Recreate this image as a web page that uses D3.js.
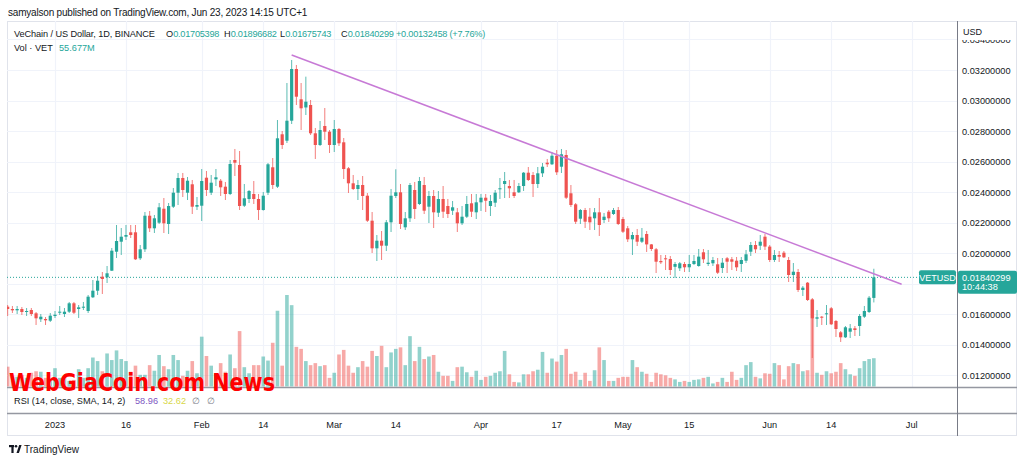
<!DOCTYPE html>
<html><head><meta charset="utf-8">
<script src="https://cdn.jsdelivr.net/npm/d3@7"></script>
<style>html,body{margin:0;padding:0;background:#fff;overflow:hidden}svg{display:block;font-family:"Liberation Sans",Arial,sans-serif}</style>
</head><body><svg id="c" width="1024" height="464"></svg>
<script>
// ---------- DATA ----------
const startDate = "2022-12-22"; // first daily candle
const open = [0.016479,0.016328,0.016242,0.016328,0.016131,0.016262,0.016046,0.015653,0.015672,0.015561,
0.015869,0.016085,0.016000,0.016151,0.016702,0.016328,0.016413,0.016196,0.017095,0.017528,
0.018446,0.018406,0.018839,0.020085,0.020741,0.021069,0.021357,0.021357,0.019652,0.020243,
0.022445,0.021620,0.021987,0.022904,0.021902,0.023036,0.023954,0.024918,0.023954,0.024505,
0.023036,0.023101,0.024938,0.023954,0.024833,0.024741,0.024348,0.023869,0.026098,0.025770,
0.023101,0.023541,0.023869,0.023541,0.022819,0.023954,0.025620,0.024348,0.027784,0.027364,
0.028675,0.032066,0.030079,0.029544,0.029705,0.027849,0.027082,0.028328,0.027954,0.027082,
0.028131,0.027259,0.025554,0.024570,0.024197,0.024459,0.023757,0.022118,0.020308,0.020806,
0.020479,0.022013,0.023738,0.023980,0.021685,0.022275,0.024131,0.023213,0.024459,0.023036,
0.023738,0.022642,0.023541,0.023082,0.022774,0.022668,0.021948,0.022380,0.023259,0.022668,
0.023324,0.023626,0.023082,0.023298,0.024177,0.024524,0.024393,0.023980,0.023980,0.024393,
0.025265,0.025115,0.024524,0.025226,0.025921,0.025817,0.026380,0.025659,0.026426,0.023915,
0.023193,0.022249,0.022819,0.022380,0.022275,0.022668,0.022164,0.022708,0.022557,0.022819,
0.022229,0.021620,0.020898,0.021180,0.020741,0.021246,0.020564,0.020243,0.019475,0.019652,
0.019607,0.019095,0.018997,0.019279,0.019062,0.019279,0.019147,0.020046,0.019279,0.019325,
0.019259,0.019016,0.019652,0.019587,0.019495,0.019279,0.019495,0.020085,0.020524,0.020479,
0.021069,0.020420,0.019541,0.019869,0.020020,0.019541,0.018557,0.018754,0.017574,0.018052,
0.016964,0.015692,0.015823,0.015980,0.016374,0.015541,0.014800,0.014472,0.014839,0.015062,
0.015213,0.015823,0.016131,0.01705398];
const high = [0.016590,0.016525,0.016525,0.016459,0.016393,0.016393,0.016131,0.016000,0.015803,0.016065,
0.016196,0.016525,0.016393,0.016787,0.016787,0.016590,0.016787,0.017246,0.018229,0.018491,
0.018754,0.019147,0.020328,0.021836,0.021639,0.021836,0.021836,0.021836,0.020524,0.022688,
0.022754,0.022492,0.023278,0.023606,0.023278,0.024262,0.025246,0.025246,0.024984,0.024787,
0.023672,0.025508,0.025377,0.025115,0.025508,0.024852,0.024656,0.026098,0.026820,0.026688,
0.024524,0.024131,0.024721,0.023869,0.024000,0.025901,0.026229,0.028721,0.028000,0.031147,
0.032656,0.032328,0.031147,0.031563,0.030033,0.028197,0.028656,0.029508,0.028065,0.028721,
0.028197,0.027541,0.025639,0.025115,0.024787,0.025049,0.023934,0.022688,0.021180,0.021442,
0.022164,0.024197,0.025488,0.024524,0.022688,0.024590,0.024656,0.024984,0.024984,0.024066,
0.024131,0.024066,0.024393,0.023541,0.023410,0.022951,0.023082,0.023738,0.023869,0.023869,
0.023869,0.023869,0.023803,0.024131,0.024918,0.025311,0.024787,0.024787,0.024590,0.025311,
0.025639,0.025311,0.025639,0.025901,0.026164,0.026623,0.026754,0.026820,0.026754,0.024459,
0.023278,0.022885,0.022951,0.022951,0.022951,0.023606,0.022623,0.022819,0.022951,0.023016,
0.022361,0.021770,0.021377,0.021574,0.021639,0.021442,0.020590,0.020328,0.019869,0.019869,
0.019803,0.019410,0.019410,0.019410,0.019869,0.019869,0.020262,0.020262,0.020197,0.019738,
0.019672,0.019672,0.019738,0.019738,0.019738,0.019738,0.020197,0.020721,0.020787,0.021180,
0.021246,0.020524,0.020197,0.020131,0.020131,0.019738,0.019344,0.018951,0.017836,0.018098,
0.017049,0.016262,0.015869,0.016590,0.016459,0.015607,0.014885,0.015213,0.015344,0.015213,
0.016000,0.016525,0.017180,0.01896682];
const low = [0.015869,0.016065,0.016000,0.015934,0.015869,0.015869,0.015279,0.015476,0.015279,0.015476,
0.015738,0.015934,0.015803,0.016065,0.016000,0.015738,0.016262,0.016065,0.017050,0.017246,
0.017312,0.018032,0.018819,0.019672,0.019869,0.020852,0.020984,0.019541,0.019541,0.020066,
0.021377,0.021311,0.021902,0.021311,0.021246,0.022951,0.023147,0.023672,0.023475,0.022557,
0.022819,0.022098,0.023738,0.023803,0.024393,0.023738,0.023475,0.023800,0.025049,0.022819,
0.023016,0.023278,0.023213,0.022164,0.022780,0.023803,0.024197,0.024262,0.026820,0.027213,
0.028459,0.029705,0.028065,0.029049,0.027738,0.026164,0.027016,0.027410,0.026557,0.026623,
0.027016,0.024852,0.023934,0.024131,0.023475,0.022819,0.022033,0.020000,0.019475,0.019541,
0.020131,0.021377,0.023606,0.021574,0.021508,0.022033,0.022229,0.023147,0.022557,0.021967,
0.021639,0.022361,0.022295,0.022295,0.022492,0.021377,0.021836,0.022295,0.022361,0.022229,
0.022754,0.022688,0.022426,0.023016,0.023541,0.023606,0.023606,0.023606,0.023934,0.024066,
0.024721,0.023672,0.024262,0.024984,0.025639,0.025770,0.025115,0.025246,0.023541,0.023016,
0.021902,0.021902,0.021639,0.021508,0.021508,0.021115,0.021967,0.022033,0.022492,0.021836,
0.021311,0.020721,0.019869,0.020459,0.020656,0.020066,0.020131,0.018688,0.019279,0.018885,
0.018557,0.018361,0.018819,0.018754,0.018754,0.019213,0.019100,0.019344,0.019147,0.019147,
0.018623,0.018688,0.018688,0.018885,0.018819,0.018754,0.019344,0.019803,0.020000,0.020197,
0.020197,0.019410,0.019410,0.019410,0.019672,0.018098,0.018098,0.017443,0.017180,0.016852,
0.013115,0.015148,0.015279,0.015279,0.015279,0.014492,0.014164,0.014426,0.014426,0.014557,
0.014557,0.015738,0.016065,0.01675743];
const close = [0.016328,0.016242,0.016328,0.016131,0.016196,0.016000,0.015718,0.015823,0.015587,0.015889,
0.015954,0.016151,0.016151,0.016702,0.016085,0.016439,0.016479,0.017135,0.017528,0.018183,
0.018295,0.018669,0.020151,0.020787,0.021069,0.021180,0.021180,0.019587,0.020243,0.022445,
0.021620,0.022275,0.022997,0.021948,0.023082,0.023954,0.024918,0.024131,0.024741,0.023036,
0.023147,0.024721,0.024131,0.024610,0.024964,0.024308,0.023869,0.025836,0.025921,0.023082,
0.023587,0.024065,0.023541,0.022819,0.023757,0.025817,0.024459,0.027521,0.027082,0.028675,
0.032066,0.030249,0.029489,0.029921,0.027849,0.027082,0.028065,0.027954,0.027082,0.028131,
0.027193,0.025508,0.024570,0.024197,0.024459,0.023738,0.022118,0.020308,0.020806,0.020479,
0.022013,0.023757,0.023980,0.021902,0.022275,0.024459,0.022885,0.024721,0.022774,0.023738,
0.022668,0.023541,0.022708,0.022557,0.022997,0.021948,0.022380,0.023213,0.022708,0.023324,
0.023626,0.023429,0.023410,0.023954,0.024243,0.024721,0.024243,0.023738,0.024393,0.025265,
0.024787,0.024524,0.025226,0.025659,0.025817,0.026380,0.025292,0.026472,0.023626,0.023147,
0.022053,0.022819,0.022053,0.022013,0.022668,0.021836,0.022380,0.022275,0.022819,0.021902,
0.021396,0.020898,0.021180,0.020741,0.021003,0.020564,0.020262,0.019429,0.019390,0.019587,
0.018885,0.019279,0.019325,0.019062,0.019279,0.019475,0.019763,0.019587,0.019364,0.019541,
0.018708,0.019364,0.019429,0.019429,0.019062,0.019541,0.019915,0.020524,0.020243,0.020741,
0.020420,0.019541,0.019869,0.019757,0.019718,0.018557,0.018774,0.017574,0.017725,0.016918,
0.015718,0.015784,0.015757,0.016046,0.015325,0.015016,0.014472,0.015128,0.015062,0.014951,
0.015869,0.016196,0.017069,0.01840299];
const volumeM = [39,19,19,23,17,27,30,29,17,13,
36,17,19,11,13,34,17,36,57,50,
30,65,52,71,54,50,29,41,23,23,
42,31,62,40,34,62,52,21,31,50,
26,98,60,41,25,46,29,63,36,109,
38,26,42,42,59,51,86,149,41,180,
160,78,74,50,42,46,40,42,17,27,
63,72,41,27,38,50,39,70,60,80,
38,67,74,77,42,99,50,78,54,59,
62,29,21,21,11,38,39,28,19,31,
13,19,21,27,30,70,24,9,8,24,
24,30,33,68,27,55,49,62,74,25,
29,13,27,11,32,77,52,11,11,17,
19,19,52,38,29,25,9,27,24,22,
17,14,9,11,9,13,14,17,19,6,
9,17,9,29,13,17,42,48,19,16,
26,25,46,42,14,40,46,44,30,32,
170,27,23,30,26,29,46,34,24,21,
36,50,54,55.677];
const priceTicks = [0.012,0.014,0.016,0.018,0.020,0.022,0.024,0.026,0.028,0.030,0.032,0.034];
const timeTicks = ["2023-01-01","2023-01-16","2023-02-01","2023-02-14","2023-03-01","2023-03-14","2023-04-01","2023-04-17","2023-05-01","2023-05-15","2023-06-01","2023-06-14","2023-07-01"];
const timeTickLabels = ["2023","16","Feb","14","Mar","14","Apr","17","May","15","Jun","14","Jul"];
const trendDates = ["2023-02-20T00:00Z","2023-06-28T21:00Z"];
const trendPrices = [0.032983,0.017947];
const lastPrice = 0.01840299;
const ohlcKeys = ["O","H","L","C"];
const ohlcValues = ["0.01705398","0.01896682","0.01675743","0.01840299"];
const changeText = "+0.00132458 (+7.76%)";
const volLegend = "55.677M";
const rsiValues = ["58.96","32.62"];

// ---------- LAYOUT ----------
const UP="#26a69a", DN="#ef5350", UPV="rgba(38,166,154,0.5)", DNV="rgba(239,83,80,0.5)";
const TXT="#131722", GRID="#f0f3fa";
const L=7, R=957, T=21, MB=387, RB=413, AB=435, AR=1017;

const svg = d3.select("#c");
const parse = s => new Date(s.length===10 ? s+"T00:00Z" : s);
const x = d3.scaleUtc().domain([parse("2023-01-01"), parse("2023-07-01")]).range([55, 911.7]);
const y = d3.scaleLinear().domain([0.012, 0.032]).range([375, 70]);
const yV = d3.scaleLinear().domain([0, 180]).range([386.5, 295]);

const start = parse(startDate);
const data = open.map((o,i)=>({date:d3.utcDay.offset(start,i), o, h:high[i], l:low[i], c:close[i], v:volumeM[i]}));

const defs = svg.append("defs");
defs.append("clipPath").attr("id","mainClip").append("rect").attr("x",L).attr("y",T).attr("width",R-L).attr("height",MB-T);
defs.append("clipPath").attr("id","axClip").append("rect").attr("x",R).attr("y",40).attr("width",AR-R).attr("height",MB-40);

// outer frame
svg.append("rect").attr("x",L+0.5).attr("y",T+0.5).attr("width",AR-L-1).attr("height",AB-T).attr("fill","none").attr("stroke","#e0e3eb");

// grid
const grid = svg.append("g").attr("clip-path","url(#mainClip)");
grid.selectAll(".hg").data(priceTicks).join("line")
  .attr("x1",L).attr("x2",R).attr("y1",d=>Math.round(y(d))+0.5).attr("y2",d=>Math.round(y(d))+0.5)
  .attr("stroke",GRID).attr("stroke-width",1.2);
grid.selectAll(".vg").data(timeTicks).join("line")
  .attr("x1",d=>Math.round(x(parse(d)))+0.5).attr("x2",d=>Math.round(x(parse(d)))+0.5).attr("y1",T).attr("y2",MB)
  .attr("stroke",GRID).attr("stroke-width",1.2);

const g = svg.append("g").attr("clip-path","url(#mainClip)");
// volume
g.selectAll(".v").data(data).join("rect")
  .attr("x",d=>x(d.date)-1.8).attr("width",3.6)
  .attr("y",d=>yV(d.v)).attr("height",d=>yV(0)-yV(d.v))
  .attr("fill",d=>d.c>=d.o?UPV:DNV);
// last price dotted line
g.append("line").attr("x1",L).attr("x2",919).attr("y1",y(lastPrice)).attr("y2",y(lastPrice))
  .attr("stroke",UP).attr("stroke-dasharray","1,2").attr("stroke-width",1);
// wicks
g.selectAll(".w").data(data).join("line")
  .attr("x1",d=>x(d.date)).attr("x2",d=>x(d.date)).attr("y1",d=>y(d.h)).attr("y2",d=>y(d.l))
  .attr("stroke",d=>d.c>=d.o?UP:DN).attr("stroke-width",1).attr("stroke-opacity",0.75);
// bodies
g.selectAll(".b").data(data).join("rect")
  .attr("x",d=>x(d.date)-1.6).attr("width",3.2)
  .attr("y",d=>y(Math.max(d.o,d.c))).attr("height",d=>Math.max(1,Math.abs(y(d.o)-y(d.c))))
  .attr("fill",d=>d.c>=d.o?UP:DN);
// trend line
g.append("line").attr("x1",x(parse(trendDates[0]))).attr("y1",y(trendPrices[0]))
  .attr("x2",x(parse(trendDates[1]))).attr("y2",y(trendPrices[1]))
  .attr("stroke","#c77ad6").attr("stroke-width",1.5);
// VETUSD tag
const ty = y(lastPrice);
g.append("rect").attr("x",919).attr("y",ty-7).attr("width",37).attr("height",14).attr("rx",2).attr("fill",UP);
g.append("text").attr("x",937.5).attr("y",ty+3.3).attr("text-anchor","middle").attr("fill","#fff").attr("font-size",9).text("VETUSD");

// pane separators
svg.append("line").attr("x1",L).attr("x2",AR).attr("y1",MB+0.5).attr("y2",MB+0.5).attr("stroke","#9598a1").attr("stroke-width",1.5);
svg.append("line").attr("x1",L).attr("x2",AR).attr("y1",RB+0.5).attr("y2",RB+0.5).attr("stroke","#9598a1").attr("stroke-width",1.5);
svg.append("line").attr("x1",R+0.5).attr("x2",R+0.5).attr("y1",T).attr("y2",AB+1).attr("stroke","#787b86").attr("stroke-width",1);

// price axis (labels hidden where the last-price label sits)
svg.append("text").attr("x",963).attr("y",35).attr("font-size",9).attr("fill",TXT).text("USD");
const pa = svg.append("g").attr("clip-path","url(#axClip)");
pa.selectAll("text").data(priceTicks.filter(d=>Math.abs(y(d)-(ty+5))>16)).join("text")
  .attr("x",962).attr("y",d=>y(d)+3.5).attr("font-size",9.2).attr("fill",TXT)
  .text(d=>d3.format(".8f")(d));
svg.append("rect").attr("x",R+1).attr("y",ty-6.5).attr("width",59).attr("height",23).attr("rx",2).attr("fill",UP);
svg.append("text").attr("x",962).attr("y",ty+3.5).attr("font-size",9.2).attr("fill","#fff").text(d3.format(".8f")(lastPrice));
svg.append("text").attr("x",962).attr("y",ty+13).attr("font-size",9.2).attr("fill","#fff").text("10:44:38");

// time axis
svg.selectAll(".tl").data(timeTicks).join("text")
  .attr("x",(d)=>x(parse(d))).attr("y",428).attr("text-anchor","middle").attr("font-size",9.2).attr("fill",TXT)
  .text((d,i)=>timeTickLabels[i]);

// header
svg.append("text").attr("x",8).attr("y",16).attr("font-size",10).attr("letter-spacing",-0.2).attr("fill",TXT)
  .text("samyalson published on TradingView.com, Jun 23, 2023 14:15 UTC+1");
const lg = svg.append("text").attr("y",37).attr("font-size",9.2).attr("fill",TXT);
lg.append("tspan").attr("x",14).attr("letter-spacing",-0.1).text("VeChain / US Dollar, 1D, BINANCE");
const keyX = [166,224,280,341];
ohlcKeys.forEach((k,i)=>{
  lg.append("tspan").attr("x",keyX[i]).text(k);
  lg.append("tspan").attr("fill",UP).attr("letter-spacing",-0.25).text(ohlcValues[i]);
});
lg.append("tspan").attr("x",396).attr("fill",UP).attr("letter-spacing",-0.25).text(changeText);
const vl = svg.append("text").attr("y",51).attr("font-size",9.2).attr("fill",TXT);
vl.append("tspan").attr("x",14).text("Vol · VET");
vl.append("tspan").attr("x",59).attr("fill",UP).text(volLegend);

// RSI legend
const rl = svg.append("text").attr("x",14).attr("y",403.5).attr("font-size",9.2).attr("fill",TXT);
rl.append("tspan").text("RSI (14, close, SMA, 14, 2)");
rl.append("tspan").attr("x",135).attr("fill","#7e57c2").text(rsiValues[0]);
rl.append("tspan").attr("x",163).attr("fill","#d7d74a").text(rsiValues[1]);
rl.append("tspan").attr("x",192).attr("fill","#787b86").text("∅");
rl.append("tspan").attr("x",207).attr("fill","#787b86").text("∅");

// TradingView logo
const lo = svg.append("g").attr("transform","translate(9,445)");
lo.append("rect").attr("x",0).attr("y",0).attr("width",5).attr("height",2.2).attr("fill",TXT);
lo.append("rect").attr("x",2.4).attr("y",0).attr("width",2.2).attr("height",8).attr("fill",TXT);
lo.append("circle").attr("cx",7).attr("cy",1.3).attr("r",1.3).attr("fill",TXT);
lo.append("path").attr("d","M7.5 8 L10.2 0 L12.6 0 L9.9 8 Z").attr("fill",TXT);
svg.append("text").attr("x",24).attr("y",453).attr("font-size",10).attr("fill",TXT).text("TradingView");

// watermark
svg.append("text").attr("x",9).attr("y",391).attr("font-size",25).attr("font-weight","bold")
  .attr("font-family","'DejaVu Sans Condensed','DejaVu Sans',sans-serif")
  .attr("fill","#ff0000").attr("textLength",266).attr("lengthAdjust","spacingAndGlyphs")
  .text("WebGiaCoin.com News");
</script></body></html>
